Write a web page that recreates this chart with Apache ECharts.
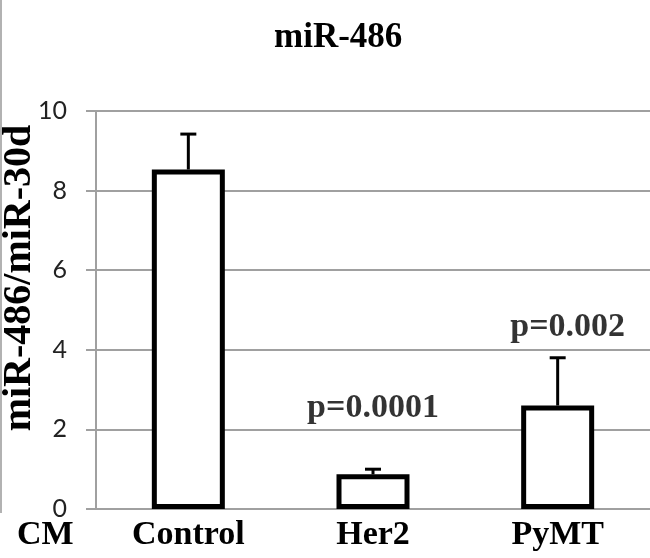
<!DOCTYPE html>
<html>
<head>
<meta charset="utf-8">
<script src="https://cdn.jsdelivr.net/npm/echarts@6/dist/echarts.min.js"></script>
<style>
  html, body { margin: 0; padding: 0; background: #fff; }
  #chart { width: 650px; height: 558px; }
</style>
</head>
<body>
<div id="chart"></div>
<script>
// data
var categories = ['Control', 'Her2', 'PyMT'];
var means = [8.53, 0.87, 2.6];
var errUp = [0.89, 0.13, 1.2];
var pLabels = ['', 'p=0.0001', 'p=0.002'];
var yMin = 0, yMax = 10, yStep = 2;

var serif = '"Liberation Serif", "Times New Roman", serif';
var gray = '#a0a0a0';

// error bars (upper only) drawn on the category scale
function renderErr(params, api) {
  var i = api.value(0);
  var base = api.coord([i, api.value(1)]);
  var top = api.coord([i, api.value(2)]);
  var cap = 8;
  return {
    type: 'group',
    children: [
      { type: 'line', shape: { x1: base[0], y1: base[1], x2: top[0], y2: top[1] },
        style: { stroke: '#000', lineWidth: 3 } },
      { type: 'line', shape: { x1: top[0] - cap, y1: top[1], x2: top[0] + cap, y2: top[1] },
        style: { stroke: '#000', lineWidth: 3 } }
    ]
  };
}

var errData = [];
for (var i = 0; i < means.length; i++) {
  errData.push([i, means[i], means[i] + errUp[i]]);
}

var chart = echarts.init(document.getElementById('chart'));
chart.setOption({
  animation: false,
  title: {
    text: 'miR-486',
    left: 274, top: 20, padding: 0,
    textStyle: { fontFamily: serif, fontWeight: 'bold', fontSize: 35, color: '#000' }
  },
  grid: { left: 96, right: 0, top: 111, bottom: 49, outerBoundsMode: 'none', containLabel: false },
  xAxis: {
    type: 'category',
    data: categories,
    axisLine: { lineStyle: { color: gray, width: 2 } },
    axisTick: { show: false },
    axisLabel: { margin: 9, fontFamily: serif, fontWeight: 'bold', fontSize: 34, color: '#000' }
  },
  yAxis: {
    type: 'value',
    min: yMin, max: yMax, interval: yStep,
    name: 'miR-486/miR-30d',
    nameLocation: 'middle',
    nameGap: 56,
    nameMoveOverlap: false,
    nameTextStyle: { fontFamily: serif, fontWeight: 'bold', fontSize: 40, color: '#000', padding: [0, 0, 0, 64] },
    axisLine: { show: true, lineStyle: { color: gray, width: 2 } },
    axisTick: { show: true, length: 10, lineStyle: { color: gray, width: 2 } },
    axisLabel: { margin: 29, fontFamily: 'Lato, "Open Sans", sans-serif', fontSize: 25, color: '#222' },
    splitLine: { lineStyle: { color: gray, width: 2 } }
  },
  series: [
    {
      type: 'bar',
      data: means,
      barWidth: 73,
      itemStyle: { color: '#fff', borderColor: '#000', borderWidth: 5 }
    },
    {
      type: 'custom',
      renderItem: renderErr,
      data: errData,
      z: 5
    },
    {
      // p-value annotations
      type: 'scatter',
      symbolSize: 0,
      silent: true,
      data: [
        { value: [1, 2.52], label: { offset: [0, 0] } },
        { value: [2, 4.56], label: { offset: [10, 0] } }
      ],
      label: {
        show: true,
        position: 'inside',
        formatter: function (p) { return pLabels[p.value[0]]; },
        fontFamily: serif, fontWeight: 'bold', fontSize: 34, color: '#000'
      }
    }
  ],
  graphic: [
    { type: 'line', shape: { x1: 1, y1: 0, x2: 1, y2: 513 }, style: { stroke: '#999', lineWidth: 1.5 } },
    { type: 'text', left: 17, top: 518,
      style: { text: 'CM', font: 'bold 34px ' + serif, fill: '#000' } }
  ]
});
</script>
</body>
</html>
